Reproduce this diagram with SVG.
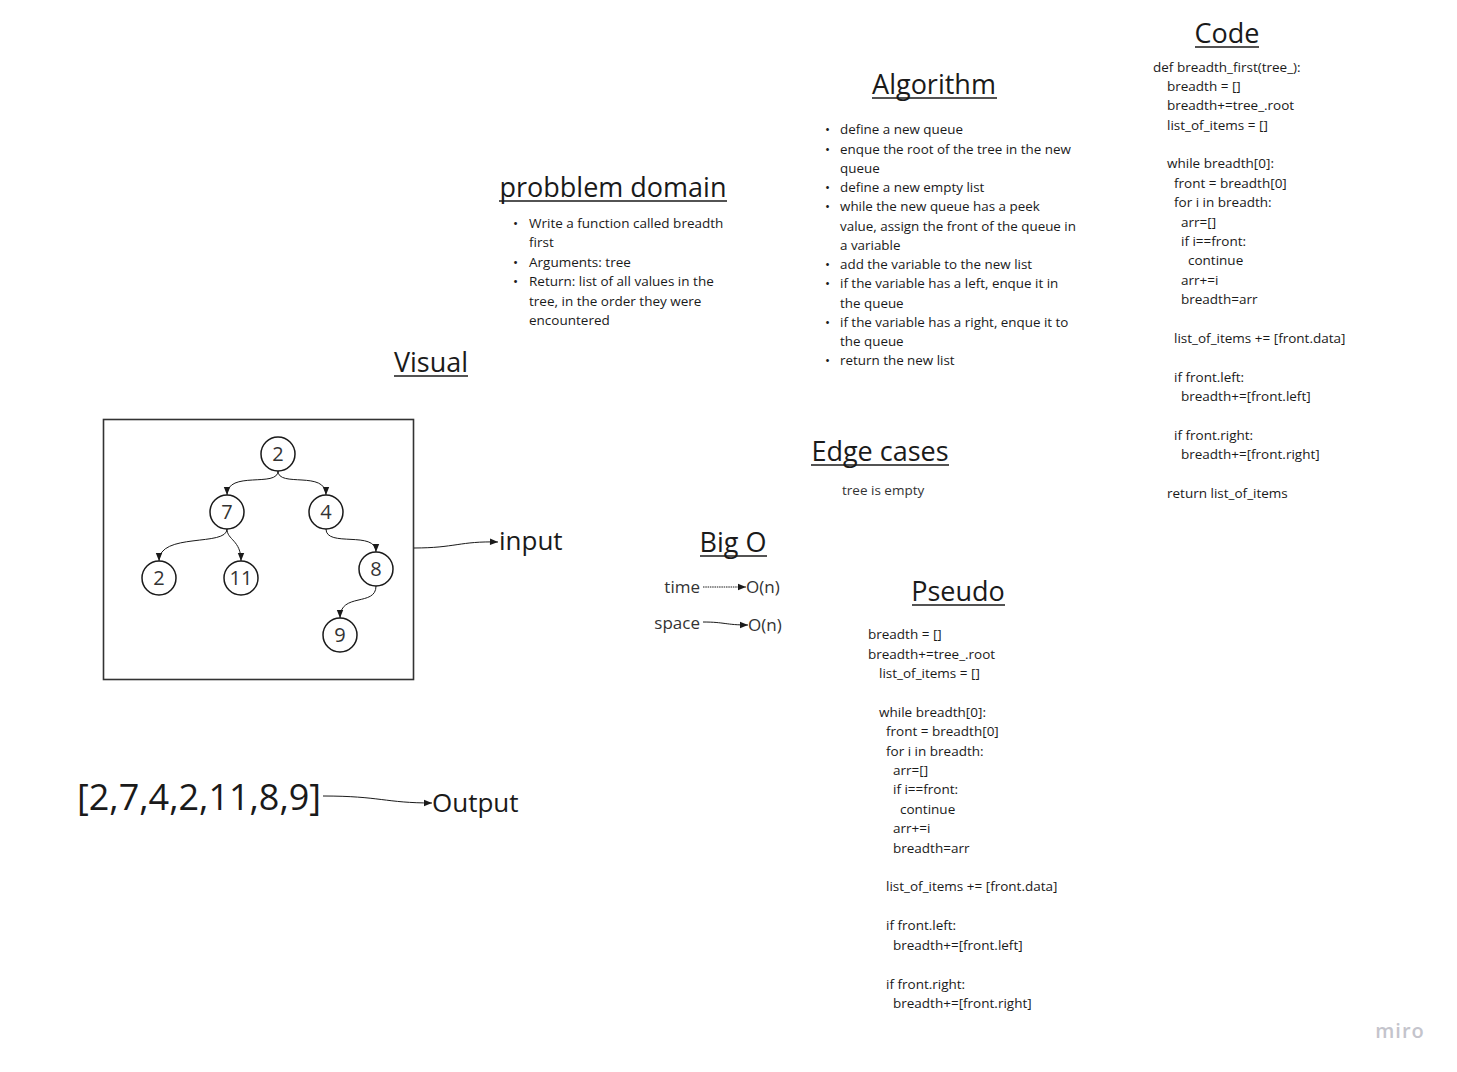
<svg xmlns="http://www.w3.org/2000/svg" width="1457" height="1072" viewBox="0 0 1457 1072">
<style>
text{font-family:"Open Sans","Noto Sans","Liberation Sans",sans-serif;fill:#1a1a1a}
.t{font-size:27px;text-anchor:middle}
.ul{stroke:#1a1a1a;stroke-width:1.6}
.b{font-size:13.5px;fill:#333}
.s{font-size:13.4px;fill:#333}
.p{font-size:13.5px;fill:#333}
.n{font-size:20px;text-anchor:middle;fill:#333}
.c{fill:#fff;stroke:#1a1a1a;stroke-width:1.5}
.e{fill:none;stroke:#1a1a1a;stroke-width:1}
.big{font-size:17px;fill:#333}
</style>
<defs>
<marker id="ah" viewBox="0 0 10 10" refX="10" refY="5" markerWidth="11" markerHeight="8" markerUnits="userSpaceOnUse" orient="auto">
<path d="M0,1 L10,5 L0,9 z" fill="#1a1a1a"/>
</marker>
</defs>
<rect width="1457" height="1072" fill="#fff"/>

<g id="code">
<text class="t" x="1227" y="43">Code</text>
<line class="ul" x1="1195" y1="47" x2="1259" y2="47"/>
<g class="b">
<text x="1153" y="72">def breadth_first(tree_):</text>
<text x="1167" y="91">breadth = []</text>
<text x="1167" y="110">breadth+=tree_.root</text>
<text x="1167" y="130">list_of_items = []</text>
<text x="1167" y="168">while breadth[0]:</text>
<text x="1174" y="188">front = breadth[0]</text>
<text x="1174" y="207">for i in breadth:</text>
<text x="1181" y="227">arr=[]</text>
<text x="1181" y="246">if i==front:</text>
<text x="1188" y="265">continue</text>
<text x="1181" y="285">arr+=i</text>
<text x="1181" y="304">breadth=arr</text>
<text x="1174" y="343">list_of_items += [front.data]</text>
<text x="1174" y="382">if front.left:</text>
<text x="1181" y="401">breadth+=[front.left]</text>
<text x="1174" y="440">if front.right:</text>
<text x="1181" y="459">breadth+=[front.right]</text>
<text x="1167" y="498">return list_of_items</text>
</g>
</g>

<g id="algorithm">
<text class="t" x="934" y="94">Algorithm</text>
<line class="ul" x1="872" y1="98" x2="997" y2="98"/>
<g class="s">
<text x="825" y="134">•</text><text x="840" y="134">define a new queue</text>
<text x="825" y="154">•</text><text x="840" y="154">enque the root of the tree in the new</text>
<text x="840" y="173">queue</text>
<text x="825" y="192">•</text><text x="840" y="192">define a new empty list</text>
<text x="825" y="211">•</text><text x="840" y="211">while the new queue has a peek</text>
<text x="840" y="231">value, assign the front of the queue in</text>
<text x="840" y="250">a variable</text>
<text x="825" y="269">•</text><text x="840" y="269">add the variable to the new list</text>
<text x="825" y="288">•</text><text x="840" y="288">if the variable has a left, enque it in</text>
<text x="840" y="308">the queue</text>
<text x="825" y="327">•</text><text x="840" y="327">if the variable has a right, enque it to</text>
<text x="840" y="346">the queue</text>
<text x="825" y="365">•</text><text x="840" y="365">return the new list</text>
</g>
</g>

<g id="problem-domain">
<text class="t" x="613" y="197">probblem domain</text>
<line class="ul" x1="499" y1="201" x2="727" y2="201"/>
<g class="p">
<text x="513" y="228">•</text><text x="529" y="228">Write a function called breadth</text>
<text x="529" y="247">first</text>
<text x="513" y="267">•</text><text x="529" y="267">Arguments: tree</text>
<text x="513" y="286">•</text><text x="529" y="286">Return: list of all values in the</text>
<text x="529" y="306">tree, in the order they were</text>
<text x="529" y="325">encountered</text>
</g>
</g>

<g id="visual">
<text class="t" x="431" y="372">Visual</text>
<line class="ul" x1="394" y1="376" x2="468" y2="376"/>
<rect x="103.5" y="419.5" width="310" height="260" fill="#fff" stroke="#333" stroke-width="1.6"/>
</g>

<g id="node-root"><circle class="c" cx="278" cy="454" r="17"/><text class="n" x="278" y="461">2</text></g>
<g id="node-7"><circle class="c" cx="227" cy="512" r="17"/><text class="n" x="227" y="519">7</text></g>
<g id="node-4"><circle class="c" cx="326" cy="512" r="17"/><text class="n" x="326" y="519">4</text></g>
<g id="node-2b"><circle class="c" cx="159" cy="578" r="17"/><text class="n" x="159" y="585">2</text></g>
<g id="node-11"><circle class="c" cx="241" cy="578" r="17"/><text class="n" x="241" y="585">11</text></g>
<g id="node-8"><circle class="c" cx="376" cy="569" r="17"/><text class="n" x="376" y="576">8</text></g>
<g id="node-9"><circle class="c" cx="340" cy="635" r="17"/><text class="n" x="340" y="642">9</text></g>

<g id="labels">
<text x="499" y="550" style="font-size:26px">input</text>
<text x="77" y="810" style="font-size:36px">[2,7,4,2,11,8,9]</text>
<text x="432" y="812" style="font-size:26px">Output</text>
</g>

<g id="big-o">
<text class="t" x="733" y="552">Big O</text>
<line class="ul" x1="700" y1="556" x2="767" y2="556"/>
<text class="big" x="700" y="593" text-anchor="end">time</text>
<text class="big" x="746" y="593">O(n)</text>
<text class="big" x="700" y="629" text-anchor="end">space</text>
<text class="big" x="748" y="631">O(n)</text>
</g>

<g id="edge-cases">
<text class="t" x="880" y="461">Edge cases</text>
<line class="ul" x1="811" y1="465" x2="949" y2="465"/>
<text class="b" x="842" y="495">tree is empty</text>
</g>

<g id="pseudo">
<text class="t" x="958" y="601">Pseudo</text>
<line class="ul" x1="912" y1="605" x2="1005" y2="605"/>
<g class="b">
<text x="868" y="639">breadth = []</text>
<text x="868" y="659">breadth+=tree_.root</text>
<text x="879" y="678">list_of_items = []</text>
<text x="879" y="717">while breadth[0]:</text>
<text x="886" y="736">front = breadth[0]</text>
<text x="886" y="756">for i in breadth:</text>
<text x="893" y="775">arr=[]</text>
<text x="893" y="794">if i==front:</text>
<text x="900" y="814">continue</text>
<text x="893" y="833">arr+=i</text>
<text x="893" y="853">breadth=arr</text>
<text x="886" y="891">list_of_items += [front.data]</text>
<text x="886" y="930">if front.left:</text>
<text x="893" y="950">breadth+=[front.left]</text>
<text x="886" y="989">if front.right:</text>
<text x="893" y="1008">breadth+=[front.right]</text>
</g>
</g>

<g id="connectors">
<path class="e" marker-end="url(#ah)" d="M278,471 C278,488 227,470 227,495"/>
<path class="e" marker-end="url(#ah)" d="M278,471 C278,488 326,470 326,495"/>
<path class="e" marker-end="url(#ah)" d="M227,529 C227,547 159,532 159,561"/>
<path class="e" marker-end="url(#ah)" d="M227,529 C227,540 241,540 241,561"/>
<path class="e" marker-end="url(#ah)" d="M326,529 C326,548 376,530 376,552"/>
<path class="e" marker-end="url(#ah)" d="M376,586 C376,607 340,592 340,618"/>
<path class="e" marker-end="url(#ah)" d="M414,548 C455,548 460,541 498,542"/>
<path class="e" marker-end="url(#ah)" d="M323,796 C380,796 385,803 432,803"/>
<path class="e" stroke-dasharray="1.5,0.8" marker-end="url(#ah)" d="M703,587 L746,587"/>
<path class="e" marker-end="url(#ah)" d="M703,622 C725,622 725,625 748,625"/>
</g>

<g id="logo">
<text x="1400" y="1038" text-anchor="middle" style="font-size:20px;fill:#c4c4cc;font-weight:600;letter-spacing:1px">miro</text>
</g>
</svg>
